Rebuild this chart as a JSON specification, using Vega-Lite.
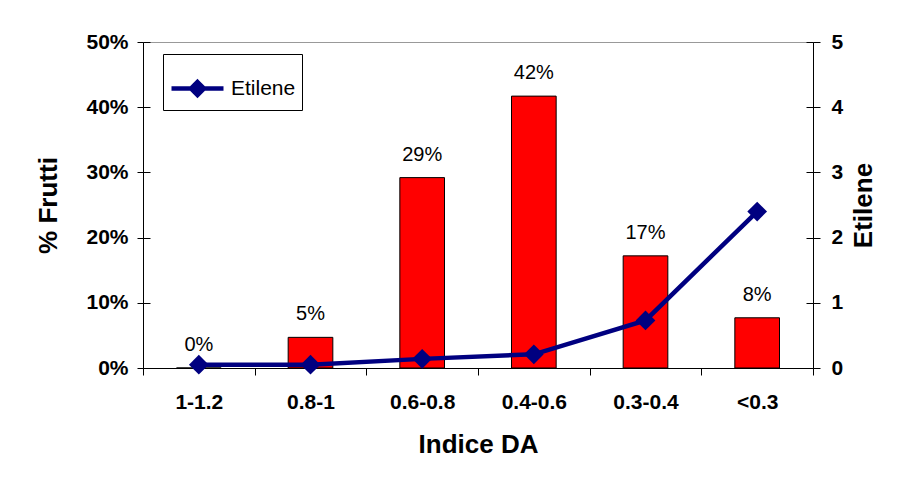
{
  "$schema": "https://vega.github.io/schema/vega-lite/v6.json",
  "width": 670,
  "height": 326,
  "autosize": {"type": "none"},
  "padding": {"left": 143, "top": 42, "right": 86, "bottom": 117},
  "background": "white",
  "config": {
    "font": "Liberation Sans",
    "view": {"stroke": "#999999", "strokeWidth": 1}
  },
  "data": {
    "values": [
      {"indice": "1-1.2", "frutti": 0.0, "etilene": 0.05},
      {"indice": "0.8-1", "frutti": 0.047, "etilene": 0.05},
      {"indice": "0.6-0.8", "frutti": 0.292, "etilene": 0.14},
      {"indice": "0.4-0.6", "frutti": 0.417, "etilene": 0.21},
      {"indice": "0.3-0.4", "frutti": 0.172, "etilene": 0.73},
      {"indice": "<0.3", "frutti": 0.077, "etilene": 2.4}
    ]
  },
  "encoding": {
    "x": {
      "field": "indice",
      "type": "nominal",
      "sort": null,
      "scale": {"paddingInner": 0, "paddingOuter": 0},
      "axis": {
        "title": "Indice DA",
        "labelAngle": 0,
        "tickBand": "extent",
        "tickSize": 7,
        "tickColor": "black",
        "domainColor": "black",
        "labelColor": "black",
        "labelFontSize": 21,
        "labelFontWeight": "bold",
        "labelPadding": 16,
        "titleColor": "black",
        "titleFontSize": 26,
        "titleFontWeight": "bold",
        "titlePadding": 19
      }
    }
  },
  "layer": [
    {
      "layer": [
        {
          "mark": {"type": "bar", "width": {"band": 0.4}, "fill": "#FF0000", "stroke": "black", "strokeWidth": 1},
          "encoding": {
            "y": {
              "field": "frutti",
              "type": "quantitative",
              "scale": {"domain": [0, 0.5]},
              "axis": {
                "title": "% Frutti",
                "values": [0, 0.1, 0.2, 0.3, 0.4, 0.5],
                "format": ".0%",
                "domainColor": "black",
                "tickColor": "black",
                "tickSize": 6,
                "labelPadding": 9,
                "labelColor": "black",
                "labelFontSize": 21,
                "labelFontWeight": "bold",
                "titleColor": "black",
                "titleFontSize": 26,
                "titleFontWeight": "bold",
                "titlePadding": 24,
                "grid": true,
                "gridColor": "black",
                "gridDash": [7, 2000]
              }
            }
          }
        },
        {
          "mark": {"type": "text", "dy": -17, "baseline": "alphabetic", "fontSize": 20, "color": "black"},
          "encoding": {
            "y": {"field": "frutti", "type": "quantitative"},
            "text": {"field": "frutti", "format": ".0%"}
          }
        }
      ]
    },
    {
      "mark": {"type": "line", "strokeWidth": 4.5, "point": {"filled": true, "shape": "diamond", "size": 390}},
      "encoding": {
        "y": {
          "field": "etilene",
          "type": "quantitative",
          "scale": {"domain": [0, 5]},
          "axis": {
            "orient": "right",
            "title": "Etilene",
            "values": [0, 1, 2, 3, 4, 5],
            "domainColor": "black",
            "tickColor": "black",
            "tickSize": 7,
            "labelPadding": 11,
            "labelColor": "black",
            "labelFontSize": 21,
            "labelFontWeight": "bold",
            "titleColor": "black",
            "titleFontSize": 26,
            "titleFontWeight": "bold",
            "titleAngle": 270,
            "titleBaseline": "top",
            "titlePadding": 8,
            "grid": true,
            "gridColor": "black",
            "gridDash": [7, 2000]
          }
        },
        "color": {
          "datum": "Etilene",
          "scale": {"range": ["#000080"]},
          "legend": {
            "title": null,
            "orient": "none",
            "legendX": 20,
            "legendY": 12,
            "strokeColor": "black",
            "fillColor": "white",
            "padding": 6,
            "symbolType": "M-1,0H1M0,-0.25L0.25,0L0,0.25L-0.25,0Z",
            "symbolSize": 2704,
            "labelFontSize": 21,
            "labelColor": "black",
            "labelOffset": 5,
            "encode": {
              "symbols": {
                "update": {
                  "fill": {"value": "#000080"},
                  "stroke": {"value": "#000080"},
                  "strokeWidth": {"value": 4.5}
                }
              }
            }
          }
        }
      }
    }
  ],
  "resolve": {"scale": {"y": "independent"}}
}
